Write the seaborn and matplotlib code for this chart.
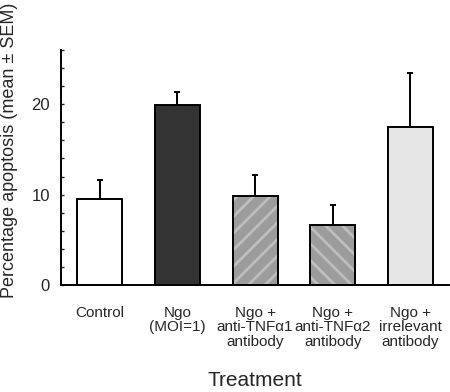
import matplotlib
matplotlib.use("Agg")
import matplotlib.pyplot as plt
import seaborn as sns
import numpy as np
import pandas as pd

categories = ["Control", "Ngo\n(MOI=1)", "Ngo +\nanti-TNF\u03b11\nantibody",
              "Ngo +\nanti-TNF\u03b12\nantibody", "Ngo +\nirrelevant\nantibody"]
values = [9.5, 19.9, 9.9, 6.6, 17.5]
sem = [2.1, 1.5, 2.3, 2.3, 5.9]
colors = ["#ffffff", "#333333", "#9c9c9c", "#9c9c9c", "#e6e6e6"]
hatches = ["", "", "//", "\\\\", ""]
y_ticks = [0, 10, 20]

sns.set_style("white")
plt.rcParams["font.family"] = ["Liberation Sans", "DejaVu Sans"]
plt.rcParams["hatch.linewidth"] = 2.0

df = pd.DataFrame({"cat": categories, "val": values})

fig = plt.figure(figsize=(4.5, 3.92), dpi=100)
ax = fig.add_axes([0.1356, 0.2730, 0.8624, 0.5995])

sns.barplot(data=df, x="cat", y="val", hue="cat", palette=colors, legend=False,
            width=0.58, errorbar=None, linewidth=0, ax=ax, saturation=1)
for p, h in zip(ax.patches, hatches):
    if h:
        p.set_hatch(h)
        p.set_edgecolor("#bebebe")
        p.set_linewidth(0)
sns.barplot(data=df, x="cat", y="val", width=0.58, errorbar=None, fill=False,
            color="black", linewidth=1.4, ax=ax)

ax.errorbar(np.arange(len(values)), values, yerr=[np.zeros(len(sem)), sem],
            fmt="none", ecolor="black", elinewidth=1.4, capsize=2, capthick=1.4,
            zorder=1)

ax.set_xlim(-0.5, 4.5)
ax.set_ylim(0, 26)
ax.set_yticks(y_ticks)
ax.set_yticks(np.arange(0, 27, 2), minor=True)
ax.set_xticks(np.arange(-0.5, 4.6, 1.0), minor=True)
ax.tick_params(axis="x", which="major", length=0, labelsize=11, pad=15)
ax.tick_params(axis="x", which="minor", length=2.5, direction="out", width=1)
ax.tick_params(axis="y", which="both", length=2, direction="in", width=1,
               left=True, labelsize=12, pad=8)
for lab in ax.get_xticklabels():
    lab.set_linespacing(1.05)

sns.despine(ax=ax)
ax.spines["left"].set_linewidth(1.4)
ax.spines["bottom"].set_linewidth(1.4)
ax.spines["left"].set_color("black")
ax.spines["bottom"].set_color("black")

ax.set_xlabel("Treatment", fontsize=15)
ax.xaxis.set_label_coords(0.5, -0.365)
ax.set_ylabel("Percentage apoptosis (mean \u00b1 SEM)", fontsize=13)
ax.yaxis.set_label_coords(-0.11, 0.575)

fig.savefig("out.png", dpi=100)
